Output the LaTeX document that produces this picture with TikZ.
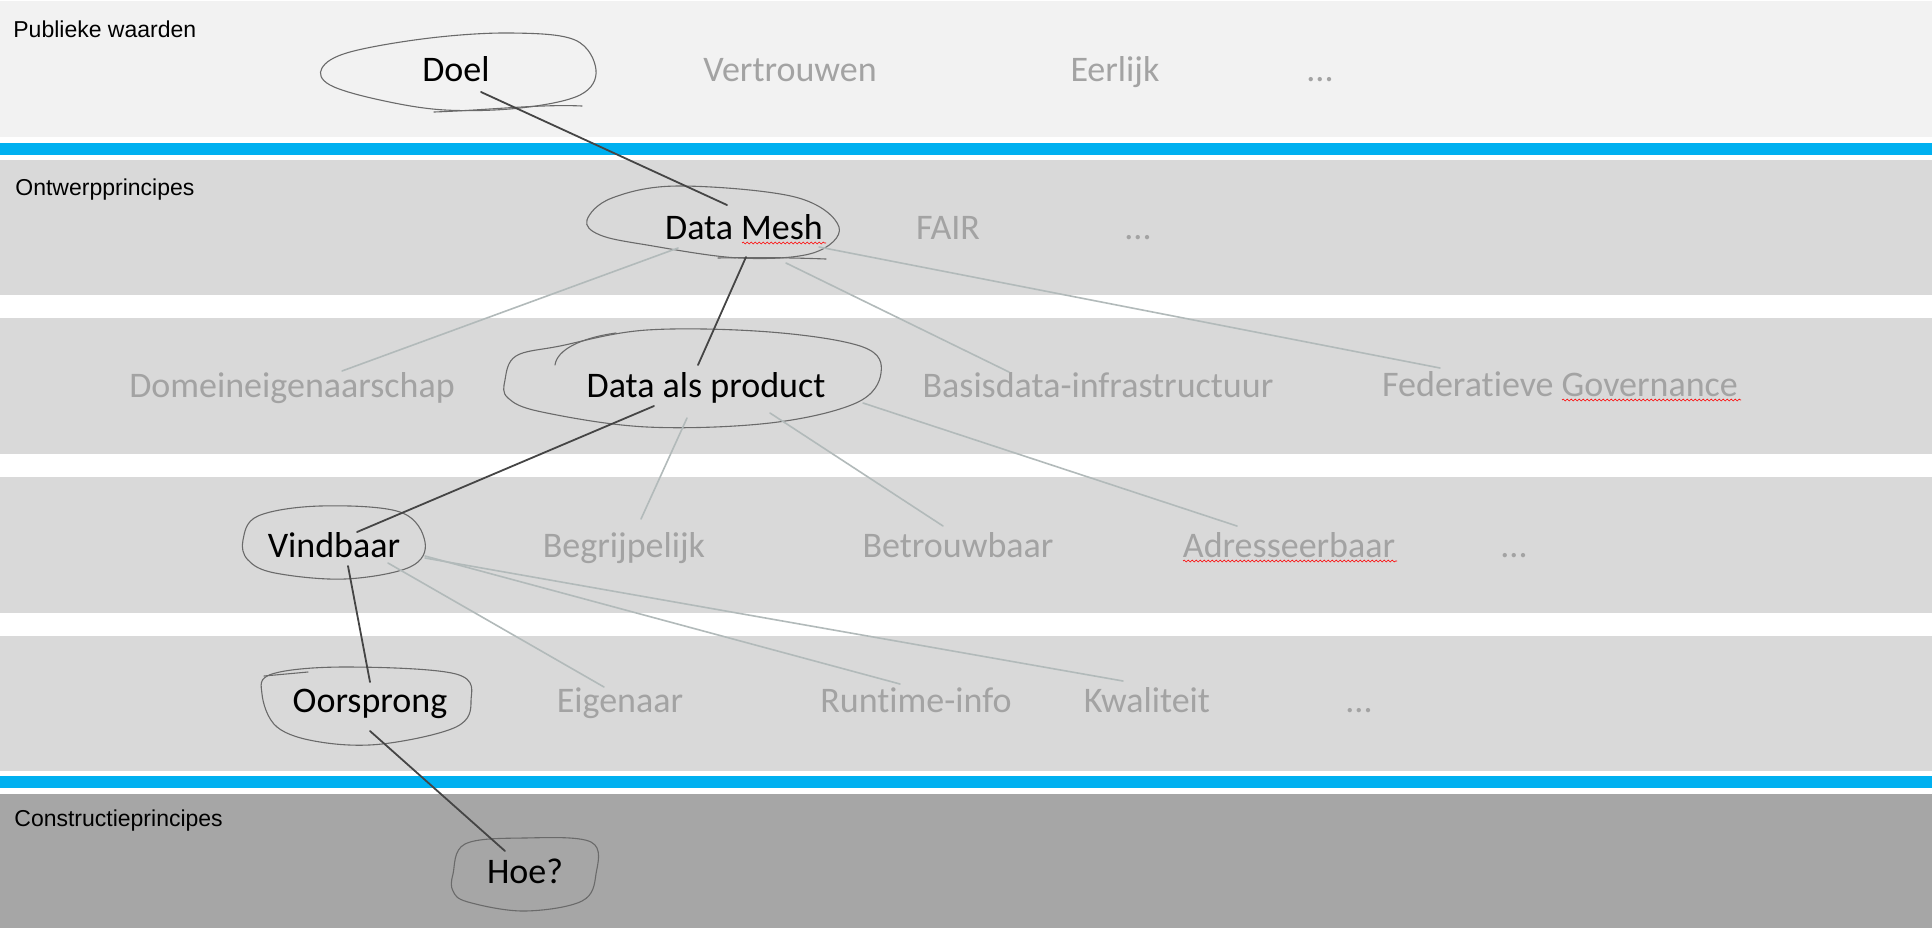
\documentclass[tikz,border=0pt]{standalone}
\usepackage{fontspec}
\setmainfont{Carlito}[Ligatures=NoCommon]
\newfontfamily\arialf{Liberation Sans}
\usetikzlibrary{calc,decorations.pathmorphing}
\definecolor{bandA}{HTML}{F2F2F2}
\definecolor{bandB}{HTML}{D9D9D9}
\definecolor{bandC}{HTML}{A6A6A6}
\definecolor{blueband}{HTML}{00B0F0}
\definecolor{txtgray}{HTML}{A3A3A3}
\definecolor{pencil}{HTML}{6A6A6A}
\definecolor{darkpen}{HTML}{454545}
\definecolor{lightpen}{HTML}{B2BABA}
\begin{document}
\begin{tikzpicture}[x=0.5pt,y=-0.5pt,
  lbl/.style={font=\arialf\fontsize{11.5}{13}\selectfont, anchor=base west, inner sep=0pt, text=black},
  sel/.style={font=\fontsize{18}{20}\selectfont, anchor=base, inner sep=0pt, text=black},
  oth/.style={font=\fontsize{18}{20}\selectfont, anchor=base, inner sep=0pt, text=txtgray},
  pen/.style={draw=pencil, line width=0.55pt, line join=round, line cap=round},
  darkline/.style={draw=darkpen, line width=0.9pt, line cap=round},
  lightline/.style={draw=lightpen, line width=0.8pt, line cap=round},
  spell/.style={draw=red, line width=0.3pt, decorate, decoration={snake, segment length=2pt, amplitude=0.45pt}}]
\useasboundingbox (0,0) rectangle (1932,928);
\fill[white] (0,0) rectangle (1932,928);
% bands
\fill[bandA] (0,1) rectangle (1932,137);
\fill[blueband] (0,143) rectangle (1932,155);
\fill[bandB] (0,160) rectangle (1932,295);
\fill[bandB] (0,318) rectangle (1932,454);
\fill[bandB] (0,477) rectangle (1932,613);
\fill[bandB] (0,636) rectangle (1932,771);
\fill[blueband] (0,776) rectangle (1932,788);
\fill[bandC] (0,794) rectangle (1932,928);
% band labels
\node[lbl] (lpub) at (13,37) {Publieke waarden};
\node[lbl] (lont) at (15,195) {Ontwerpprincipes};
\node[lbl] (lcon) at (14,826) {Constructieprincipes};
% sketchy ellipses
\draw[pen] plot[smooth cycle, tension=0.6] coordinates {(322,68) (350,52) (430,38) (511,33) (575,40) (596,70) (580,95) (520,108) (445,110) (380,100) (330,85)};
\draw[pen] (434,112) .. controls (490,110) and (540,104) .. (582,106);
\draw[pen] plot[smooth cycle, tension=0.6] coordinates {(587,220) (612,198) (678,186) (795,197) (839,227) (813,253) (739,258) (647,245) (600,235)};
\draw[pen] (718,258) .. controls (760,257) and (800,258) .. (826,259);
\draw[pen] plot[smooth cycle, tension=0.6] coordinates {(505,380) (516,356) (560,346) (647,330) (770,332) (863,347) (881,373) (856,403) (770,423) (647,427) (542,412) (508,398)};
\draw[pen] (555,365) .. controls (557,350) and (580,338) .. (616,333);
\draw[pen] plot[smooth cycle, tension=0.6] coordinates {(243,540) (258,516) (320,506) (400,512) (425,542) (410,567) (345,579) (275,573) (248,560)};
\draw[pen] plot[smooth cycle, tension=0.6] coordinates {(262,694) (272,674) (345,667) (456,674) (471,701) (456,727) (382,744) (320,742) (277,727)};
\draw[pen] (264,676) -- (308,672);
\draw[pen] plot[smooth cycle, tension=0.6] coordinates {(453,874) (465,844) (524,838) (591,842) (596,874) (582,901) (524,911) (468,902) (453,891)};
% texts
\node[sel] (doel) at (456,81) {Doel};
\node[oth] (vertr) at (790,81) {Vertrouwen};
\node[oth] (eerl) at (1115,81) {Eerlijk};
\node[oth] (dotsa) at (1320,81) {...};
\node[sel] (mesh) at (744,239) {Data Mesh};
\node[oth] (fair) at (948,239) {FAIR};
\node[oth] (dotsb) at (1138,239) {...};
\node[sel] (dap) at (706,397) {Data als product};
\node[oth] (domein) at (292,397) {Domeineigenaarschap};
\node[oth] (basis) at (1098,397) {Basisdata-infrastructuur};
\node[oth] (fed) at (1560,396) {Federatieve Governance};
\node[sel] (vind) at (334,557) {Vindbaar};
\node[oth] (begr) at (624,557) {Begrijpelijk};
\node[oth] (betr) at (958,557) {Betrouwbaar};
\node[oth] (adres) at (1289,557) {Adresseerbaar};
\node[oth] (dotsd) at (1514,557) {...};
\node[sel] (oors) at (370,712) {Oorsprong};
\node[oth] (eigen) at (620,712) {Eigenaar};
\node[oth] (runt) at (916,712) {Runtime-info};
\node[oth] (kwal) at (1147,712) {Kwaliteit};
\node[oth] (dotse) at (1359,712) {...};
\node[sel] (hoe) at (525,883) {Hoe?};
% spell-check underlines
\draw[spell] (742,243) -- (826,243);
\draw[spell] (1562,400) -- (1741,400);
\draw[spell] (1183,561) -- (1397,561);
% light connectors
\draw[lightline] ($(mesh.base)+(-66,9)$) -- ($(domein.base)+(50,-26)$);
\draw[lightline] ($(mesh.base)+(42,24)$) -- ($(basis.base)+(-89,-25)$);
\draw[lightline] ($(mesh.base)+(75,8)$) -- ($(fed.base)+(-120,-28)$);
\draw[lightline] ($(dap.base)+(-19,21)$) -- ($(begr.base)+(17,-38)$);
\draw[lightline] ($(dap.base)+(64,16)$) -- ($(betr.base)+(-15,-31)$);
\draw[lightline] ($(dap.base)+(157,6)$) -- ($(adres.base)+(-52,-31)$);
\draw[lightline] ($(vind.base)+(54,6)$) -- ($(eigen.base)+(-16,-25)$);
\draw[lightline] ($(vind.base)+(91,-1)$) -- ($(runt.base)+(-16,-28)$);
\draw[lightline] ($(vind.base)+(91,1)$) -- ($(kwal.base)+(-24,-31)$);
% dark connectors
\draw[darkline] ($(doel.base)+(25,11)$) -- ($(mesh.base)+(-17,-34)$);
\draw[darkline] ($(mesh.base)+(2,18)$) -- ($(dap.base)+(-8,-32)$);
\draw[darkline] ($(dap.base)+(-52,9)$) -- ($(vind.base)+(23,-25)$);
\draw[darkline] ($(vind.base)+(14,9)$) -- ($(oors.base)+(0,-30)$);
\draw[darkline] ($(oors.base)+(0,19)$) -- ($(hoe.base)+(-20,-32)$);
\end{tikzpicture}
\end{document}
